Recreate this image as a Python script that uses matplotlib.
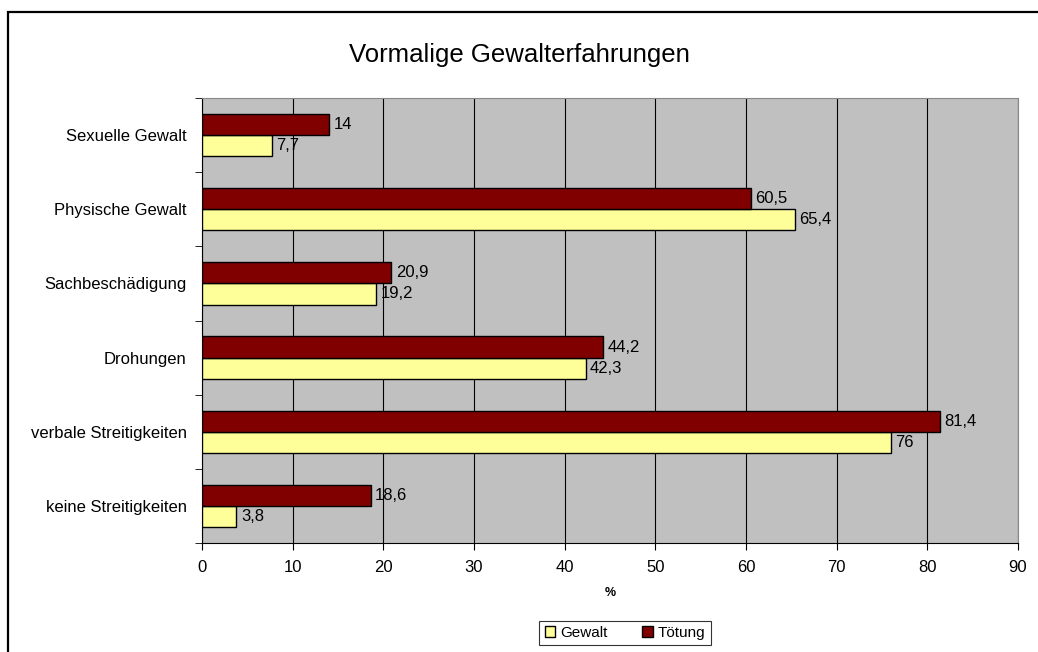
import matplotlib.pyplot as plt
from matplotlib.patches import Rectangle
import numpy as np

# Daten (von oben nach unten)
kategorien = ['Sexuelle Gewalt', 'Physische Gewalt', 'Sachbeschädigung',
              'Drohungen', 'verbale Streitigkeiten', 'keine Streitigkeiten']
gewalt = [7.7, 65.4, 19.2, 42.3, 76, 3.8]
toetung = [14, 60.5, 20.9, 44.2, 81.4, 18.6]
x_ticks = [0, 10, 20, 30, 40, 50, 60, 70, 80, 90]

plt.rcParams['font.family'] = ['Liberation Sans', 'DejaVu Sans']

fig = plt.figure(figsize=(10.38, 6.52), dpi=100)
W, H = 1038, 652
ax = fig.add_axes([202 / W, 1 - 543 / H, (1018 - 202) / W, (543 - 98) / H])

# Rahmen um das Diagramm
fig.patches.append(Rectangle((8 / W, -0.05), 1.1, 1 - 12 / H + 0.05,
                             transform=fig.transFigure, fill=False,
                             edgecolor='black', linewidth=1.6))

n = len(kategorien)
pos = np.arange(n)[::-1]
h = 0.285

ax.set_facecolor('#c0c0c0')
b1 = ax.barh(pos - h / 2, gewalt, height=h, color='#ffff99', edgecolor='black',
             linewidth=1, label='Gewalt', zorder=3)
b2 = ax.barh(pos + h / 2, toetung, height=h, color='#800000', edgecolor='black',
             linewidth=1, label='Tötung', zorder=3)

def fmt(v):
    return ('%g' % v).replace('.', ',')

for bars, vals in ((b1, gewalt), (b2, toetung)):
    for b, v in zip(bars, vals):
        ax.text(v + 0.5, b.get_y() + b.get_height() / 2, fmt(v),
                va='center', ha='left', fontsize=12, zorder=4)

ax.set_xlim(0, 90)
ax.set_ylim(-0.5, n - 0.5)
ax.set_xticks(x_ticks)
ax.set_xticklabels([str(t) for t in x_ticks], fontsize=12)
ax.set_yticks(pos)
ax.set_yticklabels(kategorien, fontsize=12)
ax.tick_params(axis='y', length=0, pad=11)
ax.set_yticks(np.arange(n + 1) - 0.5, minor=True)
ax.tick_params(axis='y', which='minor', length=5, direction='out')
ax.tick_params(axis='x', length=5, direction='out', pad=7)

ax.grid(axis='x', color='black', linewidth=0.8, zorder=1)
ax.set_axisbelow(True)
for s in ('top', 'right'):
    ax.spines[s].set_color('#888888')
ax.spines['left'].set_color('black')
ax.spines['bottom'].set_color('black')

ax.set_xlabel('%', fontsize=9, fontweight='bold', labelpad=9)

fig.text(0.5, 1 - 55 / H, 'Vormalige Gewalterfahrungen', ha='center',
         va='center', fontsize=18.5)

leg = fig.legend(handles=[b1, b2], loc='center', bbox_to_anchor=(625 / W, 1 - 633 / H),
                 ncol=2, fontsize=11, frameon=True, fancybox=False,
                 edgecolor='black', handlelength=0.7, handleheight=0.7,
                 handletextpad=0.3, columnspacing=2.3, borderpad=0.35)
leg.get_frame().set_linewidth(0.8)

fig.savefig('out.png', dpi=100)
